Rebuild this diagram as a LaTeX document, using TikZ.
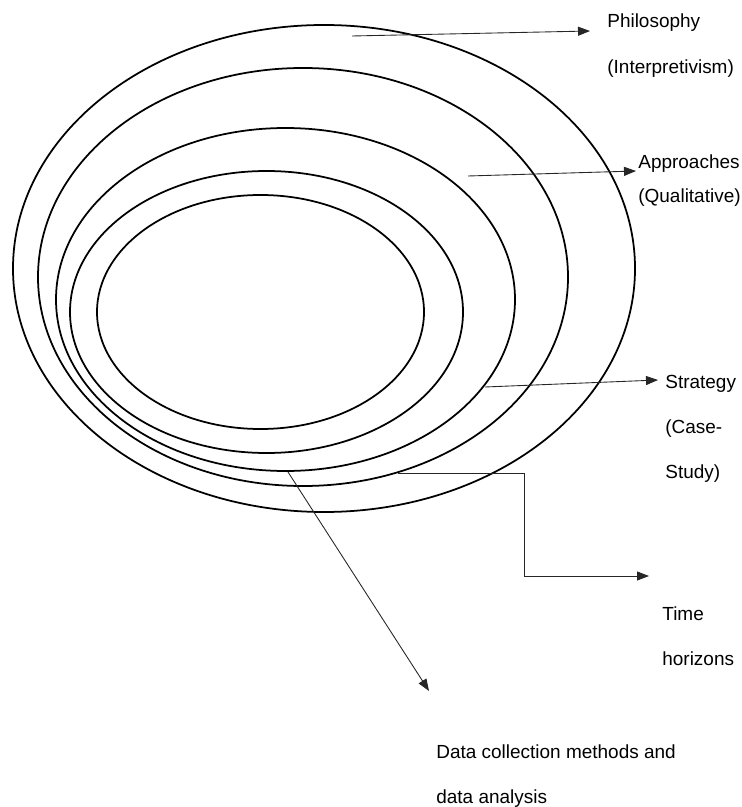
\documentclass[tikz,border=0pt]{standalone}
\usepackage{fontspec}
\setmainfont{Liberation Sans}
\usetikzlibrary{arrows.meta}
\newcommand{\onionlayer}[3] {\draw [line width=1pt] (#1) ellipse [x radius=#2, y radius=#3];}
\newcommand{\onionlabel}[4] {\node at (#1) (#2) [anchor=base west, inner sep=0pt, align=left, font=\fontsize{10.8}{#3}\selectfont] {#4};}
\newcommand{\onionpointer}[2] {\draw [line width=0.5pt, black!85, -{Triangle[length=2.4mm,width=1.8mm]}] (#1) -- (#2);}

\begin{document}
\begin{tikzpicture}[x=0.02cm, y=-0.02cm]
\useasboundingbox (0,0) rectangle (741,807);

\onionlayer {324,268.5} {311} {243.5};
\onionlayer {303,277} {265} {209};
\onionlayer {285.5,299.5} {229.5} {171.5};
\onionlayer {266.5,312} {196.5} {141};
\onionlayer {260.5,312} {163.5} {117};

% base anchor sits on the last line
\onionlabel {607,74} {philosophy} {26.2pt} {Philosophy\\(Interpretivism)};
\onionlabel {638,203} {approaches} {19.9pt} {Approaches\\(Qualitative)};
\onionlabel {665,478} {strategy} {25.6pt} {Strategy\\(Case-\\Study)};
\onionlabel {662,665} {time} {25.6pt} {Time\\horizons};
\onionlabel {436,803} {data} {25.6pt} {Data collection methods and\\data analysis};

\coordinate (p1) at (352,36);  \coordinate (t1) at (590,31);
\coordinate (p2) at (468,176); \coordinate (t2) at (636,171);
\coordinate (p3) at (485,387); \coordinate (t3) at (658,380);
\coordinate (p4) at (398,473); \coordinate (t4) at (649,576);
\coordinate (p5) at (288,472); \coordinate (t5) at (429,691);

\onionpointer{p1}{t1};
\onionpointer{p2}{t2};
\onionpointer{p3}{t3};
\draw [line width=0.5pt, black!85, -{Triangle[length=2.4mm,width=1.8mm]}] (p4) -| (524,576) -- (t4);
\onionpointer{p5}{t5};
\end{tikzpicture}
\end{document}
